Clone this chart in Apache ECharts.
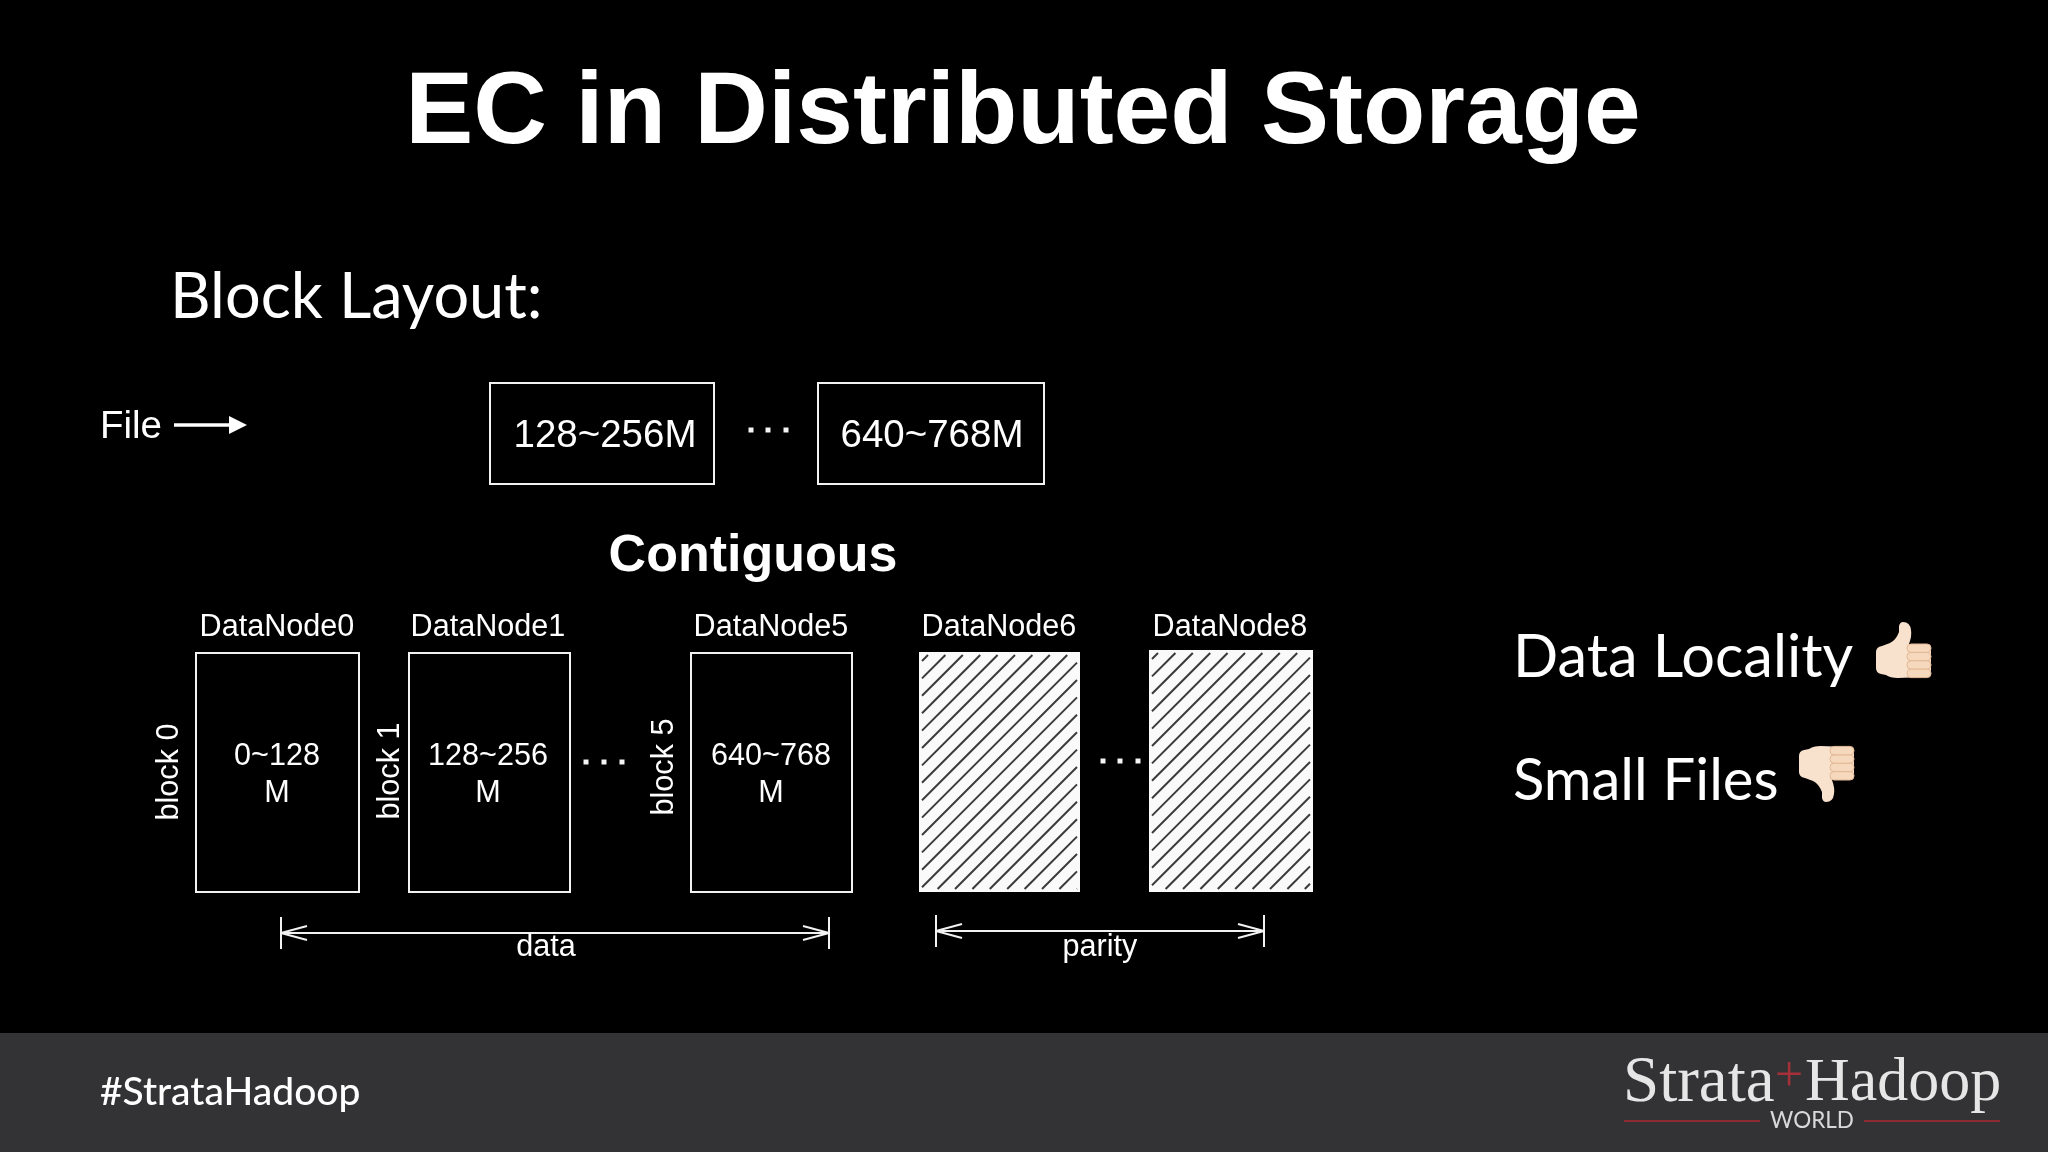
<!DOCTYPE html>
<html>
<head>
<meta charset="utf-8">
<title>EC in Distributed Storage</title>
<script src="https://cdn.jsdelivr.net/npm/echarts@6/dist/echarts.min.js"></script>
<style>
html, body { margin: 0; padding: 0; background: #000; }
#chart { width: 2048px; height: 1152px; }
</style>
</head>
<body>
<div id="chart"></div>
<script>
// content
var fileRanges = ['128~256M', '640~768M'];
var nodeNames = ['DataNode0', 'DataNode1', 'DataNode5', 'DataNode6', 'DataNode8'];
var blockNames = ['block 0', 'block 1', 'block 5'];
var blockRanges = ['0~128', '128~256', '640~768'];
var spanNames = ['data', 'parity'];
var prosCons = ['Data Locality', 'Small Files'];

// layout, in slide pixels: [left, top, right, bottom]
var fileBoxes = [[490, 383, 714, 484], [818, 383, 1044, 484]];
var dataBoxes = [[196, 653, 359, 892], [409, 653, 570, 892], [691, 653, 852, 892]];
var parityBoxes = [[919, 652, 1080, 892], [1149, 650, 1313, 892]];
var spans = [[281, 829, 933], [936, 1264, 931]];
var dotRows = [[751, 768, 786, 430], [586, 604, 622, 762], [1103, 1120, 1138, 761]];
var nodeCenters = [277, 488, 771, 999, 1230];
var blockCenters = [[170, 772], [391, 771], [665, 767]];
var rangeCenters = [277, 488, 771];
var thumbs = [[1876, 622, 0], [1799, 802, 1]];

var sans = '"Liberation Sans", Arial, sans-serif';
var gill = 'Lato, "Noto Sans", sans-serif';
var logo = '"Liberation Serif", serif';

function label(text, x, y, size, opts) {
	opts = opts || {};
	return {
		text: text, x: x, y: y, size: size,
		family: opts.family || sans,
		weight: opts.weight || 'normal',
		align: opts.align || 'center',
		color: opts.color || '#fff',
		rotation: opts.rotation || 0
	};
}

var labels = [
	label('EC in Distributed Storage', 1023, 115, 102, {weight: 'bold'}),
	label('Block Layout:', 170, 298, 63, {family: gill, align: 'left'}),
	label('File', 100, 427, 38.5, {align: 'left'}),
	label('Contiguous', 753, 557, 52, {weight: 'bold'}),
	label(prosCons[0], 1513, 658, 59.5, {family: gill, align: 'left'}),
	label(prosCons[1], 1513, 781, 58, {family: gill, align: 'left'}),
	label('#StrataHadoop', 100, 1092, 39, {family: gill, weight: 500, align: 'left'}),
	label('Strata', 1623, 1084, 65, {family: logo, color: '#e6e6e6', align: 'left'}),
	label('+', 1789, 1078, 50, {family: logo, color: '#a5303a'}),
	label('Hadoop', 1805, 1084, 62, {family: logo, color: '#e6e6e6', align: 'left'}),
	label('WORLD', 1812, 1121, 22.5, {family: gill, color: '#d9d9d9'})
];
fileRanges.forEach(function (t, i) {
	labels.push(label(t, [605, 932][i], 436, 38.5));
});
nodeNames.forEach(function (t, i) {
	labels.push(label(t, nodeCenters[i], 628, 30.6));
});
blockRanges.forEach(function (t, i) {
	labels.push(label(t, rangeCenters[i], 757, 30.6));
	labels.push(label('M', rangeCenters[i], 794, 30.6));
});
blockNames.forEach(function (t, i) {
	labels.push(label(t, blockCenters[i][0], blockCenters[i][1], 30.6, {rotation: Math.PI / 2}));
});
spanNames.forEach(function (t, i) {
	labels.push(label(t, [546, 1100][i], 948, 30.6));
});

var thumbPath = 'M0,30 Q0,25 6,24 L14,21 Q20,18 23,10 L23,4 Q24,0 27,0 Q34,0 35,8 Q36,14 33,22 L50,22 Q55,23 55,28 L55,48 Q54,55 48,55 L22,56 Q14,56 10,53 L5,52 Q0,51 0,46 Z';

function rectOf(api) {
	var a = api.coord([api.value(0), api.value(1)]);
	var b = api.coord([api.value(2), api.value(3)]);
	return {x: a[0], y: a[1], width: b[0] - a[0], height: b[1] - a[1]};
}

function renderBox(params, api) {
	return {
		type: 'rect',
		shape: rectOf(api),
		style: {fill: 'rgba(0,0,0,0)', stroke: '#f2f2f2', lineWidth: 2}
	};
}

// white box with up-right diagonal lines, spaced like the slide's hatch
function renderHatch(params, api) {
	var r = rectOf(api);
	var pad = 3, gap = 17.4;
	var x0 = r.x + pad, y0 = r.y + pad, x1 = r.x + r.width - pad, y1 = r.y + r.height - pad;
	var children = [{type: 'rect', shape: r, style: {fill: '#fafafa'}}];
	for (var c = x0 + y0 + 6; c < x1 + y1; c += gap) {
		var ax = Math.max(x0, c - y1), ay = c - ax;
		var bx = Math.min(x1, c - y0), by = c - bx;
		children.push({
			type: 'line',
			shape: {x1: ax, y1: ay, x2: bx, y2: by},
			style: {stroke: '#3a3a3a', lineWidth: 2}
		});
	}
	return {type: 'group', children: children};
}

function renderSpan(params, api) {
	var a = api.coord([api.value(0), api.value(2)]);
	var b = api.coord([api.value(1), api.value(2)]);
	var style = {stroke: '#f2f2f2', lineWidth: 2, fill: 'rgba(0,0,0,0)'};
	function seg(x1, y1, x2, y2) {
		return {type: 'line', shape: {x1: x1, y1: y1, x2: x2, y2: y2}, style: style};
	}
	return {type: 'group', children: [
		seg(a[0], a[1], b[0], b[1]),
		seg(a[0], a[1] - 16, a[0], a[1] + 16),
		seg(b[0], b[1] - 16, b[0], b[1] + 16),
		seg(a[0], a[1], a[0] + 26, a[1] - 7),
		seg(a[0], a[1], a[0] + 26, a[1] + 7),
		seg(b[0], b[1], b[0] - 26, b[1] - 7),
		seg(b[0], b[1], b[0] - 26, b[1] + 7)
	]};
}

function renderDots(params, api) {
	var children = [];
	for (var i = 0; i < 3; i++) {
		var p = api.coord([api.value(i), api.value(3)]);
		children.push({
			type: 'rect',
			shape: {x: p[0] - 2.5, y: p[1] - 2.5, width: 5, height: 5},
			style: {fill: '#f5f5f5'}
		});
	}
	return {type: 'group', children: children};
}

function renderLabel(params, api) {
	var d = labels[params.dataIndex];
	var p = api.coord([d.x, d.y]);
	return {
		type: 'text',
		x: p[0], y: p[1],
		rotation: d.rotation,
		style: {
			text: d.text,
			fill: d.color,
			fontFamily: d.family,
			fontSize: d.size,
			fontWeight: d.weight,
			align: d.align,
			verticalAlign: 'middle'
		}
	};
}

function renderThumb(params, api) {
	var p = api.coord([api.value(0), api.value(1)]);
	var flip = api.value(2) === 1;
	var children = [{
		type: 'path',
		shape: {pathData: thumbPath, x: 0, y: 0, width: 55, height: 56},
		style: {fill: '#f8e2cd'}
	}];
	for (var i = 0; i < 4; i++) {
		children.push({
			type: 'rect',
			shape: {x: 31, y: 22 + i * 8.4, width: 24, height: 8.4, r: 4},
			style: {fill: '#f6d9bd', stroke: '#e2b896', lineWidth: 1}
		});
	}
	return {type: 'group', x: p[0], y: p[1], scaleY: flip ? -1 : 1, children: children};
}

function renderFooter(params, api) {
	return {type: 'rect', shape: rectOf(api), style: {fill: api.value(4) === 1 ? '#8e2a33' : '#333335'}};
}

function custom(name, renderItem, data, z) {
	return {
		name: name, type: 'custom', renderItem: renderItem, data: data,
		z: z || 2, silent: true, clip: false, animation: false
	};
}

var chart = echarts.init(document.getElementById('chart'), null, {renderer: 'canvas'});
chart.setOption({
	backgroundColor: '#000',
	animation: false,
	tooltip: {show: false},
	grid: {left: 0, right: 0, top: 0, bottom: 0},
	xAxis: {type: 'value', min: 0, max: 2048, show: false},
	yAxis: {type: 'value', min: 0, max: 1152, inverse: true, show: false},
	series: [
		custom('footer', renderFooter, [
			[0, 1033, 2048, 1152, 0],
			[1624, 1120, 1760, 1122, 1],
			[1864, 1120, 2000, 1122, 1]
		], 1),
		custom('file blocks', renderBox, fileBoxes),
		custom('data blocks', renderBox, dataBoxes),
		custom('parity blocks', renderHatch, parityBoxes),
		custom('spans', renderSpan, spans),
		custom('dots', renderDots, dotRows),
		custom('thumbs', renderThumb, thumbs),
		custom('file arrow', function (params, api) {
			var a = api.coord([api.value(0), api.value(2)]);
			var b = api.coord([api.value(1), api.value(2)]);
			return {type: 'group', children: [
				{type: 'line', shape: {x1: a[0], y1: a[1], x2: b[0] - 12, y2: b[1]}, style: {stroke: '#fff', lineWidth: 3.5}},
				{type: 'polygon', shape: {points: [[b[0] - 18, b[1] - 9], [b[0], b[1]], [b[0] - 18, b[1] + 9]]}, style: {fill: '#fff'}}
			]};
		}, [[174, 247, 425]]),
		custom('labels', renderLabel, labels.map(function (d, i) { return [i]; }), 3)
	]
});
</script>
</body>
</html>
